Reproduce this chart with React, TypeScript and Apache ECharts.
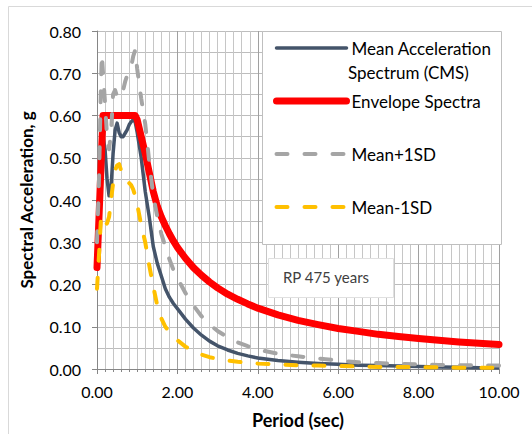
import React, { useEffect, useRef } from "react";
import * as echarts from "echarts";

const periods = [
  0, 0.05, 0.1, 0.12, 0.15, 0.2, 0.25, 0.3, 0.35, 0.4, 0.45, 0.5, 0.55, 0.6, 0.65, 0.7, 0.75, 0.8, 0.85, 0.9, 0.95,
  1.0, 1.1, 1.2, 1.3, 1.4, 1.5, 1.6, 1.7, 1.8, 1.9, 2.0, 2.2, 2.4, 2.6, 2.8, 3.0, 3.25, 3.5, 3.75, 4.0, 4.5, 5.0,
  5.5, 6.0, 6.5, 7.0, 7.5, 8.0, 8.5, 9.0, 9.5, 10.0,
];

const meanCMS = [
  0.3, 0.4, 0.5, 0.53, 0.55, 0.52, 0.45, 0.41, 0.43, 0.51, 0.565, 0.582, 0.56, 0.55, 0.55, 0.558, 0.566, 0.578, 0.585, 0.59, 0.585,
  0.56, 0.5, 0.42, 0.36, 0.29, 0.25, 0.22, 0.19, 0.17, 0.155, 0.143, 0.118, 0.097, 0.08, 0.066, 0.055, 0.045, 0.037, 0.031, 0.026, 0.02, 0.016,
  0.013, 0.011, 0.009, 0.008, 0.007, 0.006, 0.005, 0.004, 0.003, 0.003,
];

const envelope = [
  0.24, 0.36, 0.48, 0.53, 0.6, 0.6, 0.6, 0.6, 0.6, 0.6, 0.6, 0.6, 0.6, 0.6, 0.6, 0.6, 0.6, 0.6, 0.6, 0.6, 0.6,
  0.59, 0.55, 0.51, 0.465, 0.42, 0.385, 0.36, 0.339, 0.32, 0.303, 0.288, 0.262, 0.24, 0.222, 0.206, 0.192, 0.177, 0.165, 0.154, 0.144, 0.128, 0.115,
  0.105, 0.096, 0.089, 0.082, 0.077, 0.072, 0.068, 0.064, 0.061, 0.058,
];

const meanPlus1SD = [
  0.3, 0.45, 0.68, 0.745, 0.7, 0.63, 0.55, 0.52, 0.56, 0.65, 0.66, 0.645, 0.64, 0.652, 0.66, 0.68, 0.695, 0.705, 0.715, 0.74, 0.755,
  0.71, 0.64, 0.58, 0.49, 0.41, 0.36, 0.32, 0.29, 0.26, 0.235, 0.215, 0.18, 0.15, 0.125, 0.105, 0.09, 0.075, 0.063, 0.054, 0.046, 0.036, 0.03,
  0.025, 0.02, 0.016, 0.014, 0.012, 0.011, 0.0095, 0.009, 0.0085, 0.008,
];

const meanMinus1SD = [
  0.19, 0.27, 0.36, 0.355, 0.345, 0.34, 0.345, 0.36, 0.4, 0.44, 0.47, 0.482, 0.485, 0.47, 0.455, 0.45, 0.445, 0.44, 0.435, 0.425, 0.41,
  0.39, 0.34, 0.3, 0.245, 0.195, 0.15, 0.12, 0.1, 0.088, 0.078, 0.068, 0.053, 0.042, 0.034, 0.028, 0.024, 0.02, 0.017, 0.015, 0.013, 0.011, 0.009,
  0.008, 0.007, 0.006, 0.005, 0.005, 0.004, 0.004, 0.003, 0.003, 0.003,
];

const seriesNames = ["Mean Acceleration Spectrum (CMS)", "Envelope Spectra", "Mean+1SD", "Mean-1SD"];

const FONT = "Lato, 'Open Sans', sans-serif";

const toPairs = (vals: number[]) => periods.map((p, i) => [p, vals[i]]);

export default function App() {
  const ref = useRef<HTMLDivElement>(null);
  useEffect(() => {
    if (!ref.current) return;
    const chart = echarts.init(ref.current, undefined, { renderer: "svg" });
    const dash = [11, 17];
    chart.setOption({
      animation: false,
      backgroundColor: "#ffffff",
      textStyle: { fontFamily: FONT },
      grid: { left: 97, right: 33, top: 31, bottom: 63, containLabel: false },
      xAxis: {
        type: "value",
        min: 0,
        max: 10,
        interval: 2,
        name: "Period (sec)",
        nameLocation: "middle",
        nameGap: 42,
        nameTextStyle: { fontFamily: FONT, fontSize: 18, fontWeight: "bold", color: "#000" },
        axisLine: { show: true, lineStyle: { color: "#868686", width: 1 } },
        axisTick: { show: true, length: 5, lineStyle: { color: "#868686" } },
        minorTick: { show: true, splitNumber: 10, length: 3, lineStyle: { color: "#868686" } },
        axisLabel: {
          formatter: (v: number) => v.toFixed(2),
          fontFamily: FONT,
          fontSize: 16,
          color: "#000",
          margin: 14,
        },
        splitLine: { show: true, lineStyle: { color: "#a0a0a0", width: 1 } },
        minorSplitLine: { show: true, lineStyle: { color: "#c6c6c6", width: 1 } },
      },
      yAxis: {
        type: "value",
        min: 0,
        max: 0.8,
        interval: 0.1,
        name: "Spectral Acceleration, g",
        nameLocation: "middle",
        nameGap: 62,
        nameTextStyle: { fontFamily: FONT, fontSize: 17, fontWeight: "bold", color: "#000" },
        axisLine: { show: true, lineStyle: { color: "#868686", width: 1 } },
        axisTick: { show: true, length: 5, lineStyle: { color: "#868686" } },
        minorTick: { show: false, splitNumber: 2 },
        axisLabel: {
          formatter: (v: number) => v.toFixed(2),
          fontFamily: FONT,
          fontSize: 16,
          color: "#000",
          margin: 16,
        },
        splitLine: { show: true, lineStyle: { color: "#bdbdbd", width: 1 } },
        minorSplitLine: { show: true, lineStyle: { color: "#bdbdbd", width: 1 } },
      },
      legend: {
        orient: "vertical",
        left: 273,
        top: 38,
        itemWidth: 70,
        itemHeight: 14,
        itemGap: 33,
        padding: 0,
        data: seriesNames,
        formatter: (name: string) => (name === seriesNames[0] ? "Mean Acceleration" : name),
        textStyle: { fontFamily: FONT, fontSize: 17, color: "#000", lineHeight: 20 },
        itemStyle: { opacity: 0, borderWidth: 0 },
        lineStyle: { width: "inherit", type: "inherit", cap: "round" },
        z: 6,
      },
      graphic: [
        {
          type: "rect",
          silent: true,
          z: 0,
          shape: { x: 8.5, y: 6.5, width: 700, height: 700 },
          style: { fill: "none", stroke: "#d9d9d9", lineWidth: 1 },
        },
        {
          type: "rect",
          silent: true,
          z: 3,
          shape: { x: 262.5, y: 31.5, width: 239, height: 213 },
          style: { fill: "#ffffff", stroke: "#bfbfbf", lineWidth: 1 },
        },
        {
          type: "text",
          silent: true,
          z: 7,
          x: 348,
          y: 72,
          style: {
            text: "Spectrum (CMS)",
            fontFamily: FONT,
            fontSize: 17,
            fill: "#000",
            verticalAlign: "middle",
            align: "left",
          },
        },
        {
          type: "rect",
          silent: true,
          z: 3,
          shape: { x: 268.5, y: 258.5, width: 125, height: 39 },
          style: { fill: "#ffffff", stroke: "#e0e0e0", lineWidth: 1 },
        },
        {
          type: "text",
          silent: true,
          z: 7,
          x: 326,
          y: 277,
          style: {
            text: "RP 475 years",
            fontFamily: FONT,
            fontSize: 15,
            fill: "#404040",
            verticalAlign: "middle",
            align: "center",
          },
        },
      ],
      series: [
        {
          name: seriesNames[0],
          type: "line",
          data: toPairs(meanCMS),
          showSymbol: false,
          symbol: "none",
          lineStyle: { color: "#44546A", width: 3.5, join: "round" },
          itemStyle: { color: "#44546A" },
        },
        {
          name: seriesNames[1],
          type: "line",
          data: toPairs(envelope),
          showSymbol: false,
          symbol: "none",
          lineStyle: { color: "#FF0000", width: 7, join: "round", cap: "round" },
          itemStyle: { color: "#FF0000" },
        },
        {
          name: seriesNames[2],
          type: "line",
          data: toPairs(meanPlus1SD),
          showSymbol: false,
          symbol: "none",
          lineStyle: { color: "#A5A5A5", width: 4, type: dash, cap: "round", join: "round" },
          itemStyle: { color: "#A5A5A5" },
        },
        {
          name: seriesNames[3],
          type: "line",
          data: toPairs(meanMinus1SD),
          showSymbol: false,
          symbol: "none",
          lineStyle: { color: "#FFC000", width: 4, type: dash, cap: "round", join: "round" },
          itemStyle: { color: "#FFC000" },
        },
      ],
    });
    return () => chart.dispose();
  }, []);
  return (
    <div
      ref={ref}
      style={{ position: "fixed", left: 0, top: 0, width: 532, height: 434, background: "#fff" }}
    />
  );
}
